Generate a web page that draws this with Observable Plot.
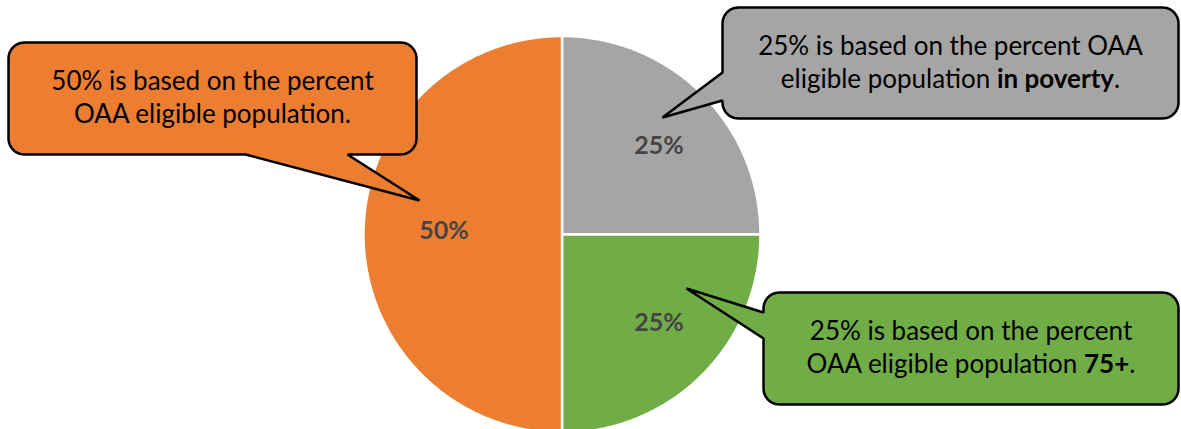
<!DOCTYPE html>
<html><head><meta charset="utf-8">
<script src="https://cdn.jsdelivr.net/npm/d3@7"></script>
<script src="https://cdn.jsdelivr.net/npm/@observablehq/plot@0.6"></script>
<style>html,body{margin:0;padding:0;background:#fff;overflow:hidden}</style>
</head><body><div id="chart"></div>
<script>
// ---- data ----
const categories = ["In poverty", "75+", "Eligible population"];
const shares = [25, 25, 50];
const sliceLabels = ["25%", "25%", "50%"];
const sliceColors = ["#A5A5A5", "#70AD47", "#ED7D31"];
const calloutCategory = ["Eligible population", "In poverty", "75+"];
const calloutLines = [
  ["50% is based on the percent", "OAA eligible population."],
  ["25% is based on the percent OAA", "eligible population **in poverty**."],
  ["25% is based on the percent", "OAA eligible population **75+**."]
];

// ---- layout ----
const W = 1181, H = 429;
const pieGeom = {cx: 561.5, cy: 234, r: 198.5};
const labelR = {"In poverty": 0.663, "75+": 0.66, "Eligible population": 0.595};
const labelShiftDeg = {"In poverty": 2.5, "75+": -2.8, "Eligible population": 1.5};
const boxes = [
  {x0: 8, y0: 42, x1: 416, y1: 154, r: 16, side: "bottom", a: 347, b: 245, tip: [419, 200]},
  {x0: 722, y0: 7, x1: 1178, y1: 118, r: 16, side: "left", a: 100, b: 72, tip: [662, 117]},
  {x0: 763, y0: 292, x1: 1178, y1: 404, r: 16, side: "left", a: 338, b: 312, tip: [686, 288]}
];
const baseOffsets = [-8.5, 24.5];

// pie slices
const arcs = d3.pie().sort(null).value(d => d.v)(categories.map((c, i) => ({c, v: shares[i], label: sliceLabels[i]})));
const slicePts = [];
const labelPts = [];
for (const a of arcs) {
  const c = a.data.c;
  slicePts.push({c, x: pieGeom.cx, y: pieGeom.cy});
  const n = Math.max(2, Math.ceil((a.endAngle - a.startAngle) / (Math.PI / 360)));
  for (let k = 0; k <= n; k++) {
    const t = a.startAngle + (a.endAngle - a.startAngle) * k / n;
    slicePts.push({c, x: pieGeom.cx + pieGeom.r * Math.sin(t), y: pieGeom.cy - pieGeom.r * Math.cos(t)});
  }
  slicePts.push({c, x: pieGeom.cx, y: pieGeom.cy});
  const m = (a.startAngle + a.endAngle) / 2 + labelShiftDeg[c] * Math.PI / 180, rr = pieGeom.r * labelR[c];
  labelPts.push({c, text: a.data.label, x: pieGeom.cx + rr * Math.sin(m), y: pieGeom.cy - rr * Math.cos(m)});
}

// callout outlines
function arcPts(out, cx, cy, r, a0, a1) {
  const n = 12;
  for (let k = 0; k <= n; k++) {
    const t = (a0 + (a1 - a0) * k / n) * Math.PI / 180;
    out.push([cx + r * Math.cos(t), cy + r * Math.sin(t)]);
  }
}
function calloutPoly(b) {
  const p = [];
  const {x0, y0, x1, y1, r} = b;
  p.push([x0 + r, y0], [x1 - r, y0]);
  arcPts(p, x1 - r, y0 + r, r, -90, 0);
  p.push([x1, y1 - r]);
  arcPts(p, x1 - r, y1 - r, r, 0, 90);
  if (b.side === "bottom") p.push([b.a, y1], b.tip, [b.b, y1]);
  p.push([x0 + r, y1]);
  arcPts(p, x0 + r, y1 - r, r, 90, 180);
  if (b.side === "left") p.push([x0, b.a], b.tip, [x0, b.b]);
  p.push([x0, y0 + r]);
  arcPts(p, x0 + r, y0 + r, r, 180, 270);
  p.push([x0 + r, y0]);
  return p;
}
const calloutPts = [];
const calloutText = [];
boxes.forEach((b, i) => {
  const c = calloutCategory[i];
  calloutPoly(b).forEach(([x, y]) => calloutPts.push({id: i, c, x, y}));
  const mx = (b.x0 + b.x1) / 2, my = (b.y0 + b.y1) / 2;
  calloutLines[i].forEach((t, j) => calloutText.push({text: t, x: mx, y: my + baseOffsets[j]}));
});

const chart = Plot.plot({
  width: W, height: H, margin: 0,
  style: {fontFamily: "Lato, sans-serif", background: "white"},
  x: {domain: [0, W], range: [0, W], axis: null},
  y: {domain: [0, H], range: [0, H], axis: null},
  color: {domain: categories, range: sliceColors},
  marks: [
    Plot.line(slicePts, {x: "x", y: "y", z: "c", fill: "c", stroke: "white", strokeWidth: 2.5, strokeLinejoin: "round", curve: "linear"}),
    Plot.text(labelPts, {x: "x", y: "y", text: "text", fontSize: 25, fontWeight: "bold", fill: "#454545", fontFamily: "Lato, sans-serif"}),
    Plot.line(calloutPts, {x: "x", y: "y", z: "id", fill: "c", stroke: "black", strokeWidth: 2.5, strokeLinejoin: "miter", curve: "linear"}),
    Plot.text(calloutText, {x: "x", y: "y", text: "text", fontSize: 26, fill: "black", lineAnchor: "bottom", textAnchor: "middle", fontFamily: "Lato, sans-serif"})
  ]
});

// bold segments
chart.querySelectorAll("text").forEach(t => {
  const s = t.textContent;
  if (!s.includes("**")) return;
  const parts = s.split("**");
  t.textContent = "";
  parts.forEach((part, k) => {
    if (!part) return;
    const ts = document.createElementNS("http://www.w3.org/2000/svg", "tspan");
    ts.textContent = part;
    if (k % 2 === 1) ts.setAttribute("font-weight", "bold");
    t.appendChild(ts);
  });
});
document.getElementById("chart").appendChild(chart);
</script>
</body></html>
